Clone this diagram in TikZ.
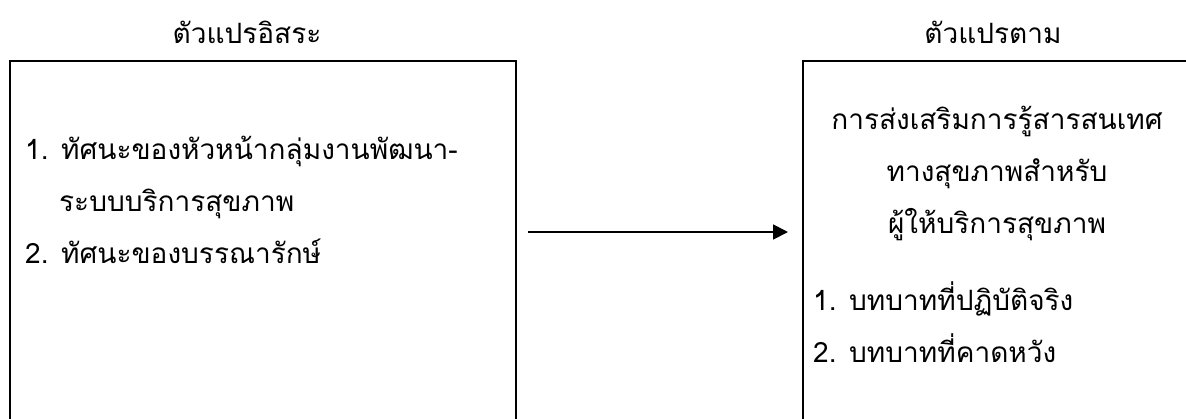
\documentclass[tikz,border=0pt]{standalone}
\usepackage{fontspec}
\newfontfamily\thaifont[Script=Thai]{Loma}
\usetikzlibrary{arrows.meta}

\begin{document}
\begin{tikzpicture}[x=1pt, y=-1pt,
    every node/.style={font=\thaifont\fontsize{28}{52}\selectfont, inner sep=0pt},
    varbox/.style={draw, line width=2.2pt, anchor=north west, minimum height=420pt},
    link/.style={line width=1.8pt, -{Triangle[length=15pt, width=15pt]}}]
\useasboundingbox (0,0) rectangle (1186,418);
\clip (0,0) rectangle (1186,418);

% headings
\node[anchor=base] (indeptitle) at (247,43) {ตัวแปรอิสระ};
\node[anchor=base] (deptitle) at (993,43) {ตัวแปรตาม};

% the two boxes
\node[varbox, minimum width=506pt] (indep) at (9,60) {};
\node[varbox, minimum width=500pt] (dep) at (802,60) {};

% anchored at the baseline of the last line
\node[align=left, anchor=base west] (indeplist) at (25,263) {%
    1. ทัศนะของหัวหน้ากลุ่มงานพัฒนา-\\
    \hspace*{34pt}ระบบบริการสุขภาพ\\
    2. ทัศนะของบรรณารักษ์};

\node[align=center, anchor=base] (deptext) at (997,233) {%
    การส่งเสริมการรู้สารสนเทศ\\
    ทางสุขภาพสำหรับ\\
    ผู้ให้บริการสุขภาพ};
\node[align=left, anchor=base west] (deplist) at (813,362) {%
    1. บทบาทที่ปฏิบัติจริง\\
    2. บทบาทที่คาดหวัง};

% arrow
\coordinate (mid) at (0,232);
\draw[link, shorten <=11pt, shorten >=14pt] (indep.east |- mid) -- (dep.west |- mid);
\end{tikzpicture}
\end{document}
